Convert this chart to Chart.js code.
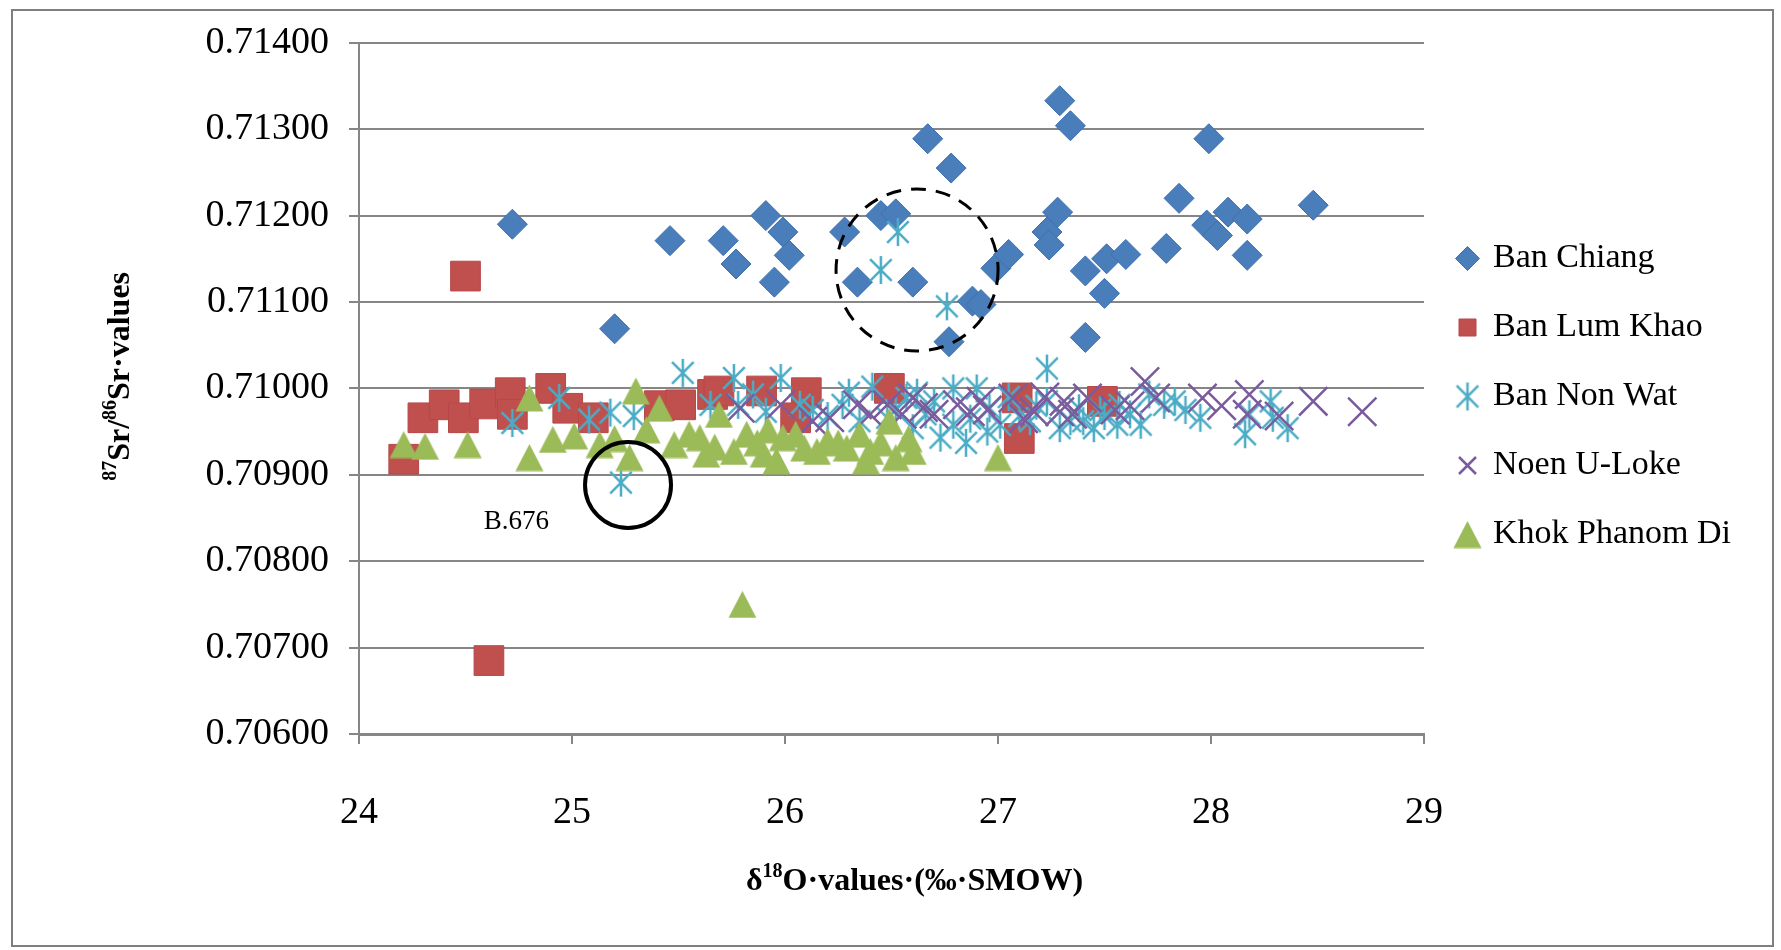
<!DOCTYPE html>
<html>
<head>
<meta charset="utf-8">
<script src="https://cdn.jsdelivr.net/npm/chart.js@4/dist/chart.umd.min.js"></script>
<style>
  html, body { margin: 0; padding: 0; background: #fff; }
  #wrap { position: relative; width: 1781px; height: 950px; }
</style>
</head>
<body>
<div id="wrap"><canvas id="isoChart"></canvas></div>
<script>
const seriesNames = ["Ban Chiang", "Ban Lum Khao", "Ban Non Wat", "Noen U-Loke", "Khok Phanom Di"];

const banChiangX = [24.72, 25.20, 25.46, 25.71, 25.77, 25.91, 25.99, 26.02, 25.95, 26.28,
  26.34, 26.45, 26.52, 26.60, 26.67, 26.78, 26.77, 26.88, 26.92, 26.99,
  27.05, 27.23, 27.24, 27.28, 27.29, 27.34, 27.41, 27.41, 27.50, 27.51,
  27.60, 27.79, 27.85, 27.98, 27.99, 28.03, 28.08, 28.17, 28.17, 28.48];
const banChiangY = [0.71190, 0.71069, 0.71171, 0.71171, 0.71144, 0.71200, 0.71181, 0.71154, 0.71123, 0.71181,
  0.71123, 0.71200, 0.71202, 0.71123, 0.71289, 0.71255, 0.71054, 0.71101, 0.71097, 0.71139,
  0.71155, 0.71181, 0.71166, 0.71204, 0.71333, 0.71304, 0.71136, 0.71059, 0.71110, 0.71150,
  0.71155, 0.71162, 0.71220, 0.71189, 0.71289, 0.71177, 0.71204, 0.71196, 0.71154, 0.71212];

const banLumKhaoX = [24.50, 24.61, 24.21, 24.30, 24.40, 24.49, 24.59, 24.71, 24.72, 24.90,
  24.98, 25.10, 25.41, 25.51, 25.66, 25.69, 25.89, 26.10, 26.05, 26.49,
  27.09, 27.10, 27.49];
const banLumKhaoY = [0.71130, 0.70685, 0.70918, 0.70966, 0.70981, 0.70966, 0.70982, 0.70995, 0.70970, 0.71000,
  0.70977, 0.70966, 0.70980, 0.70981, 0.70993, 0.70997, 0.70997, 0.70995, 0.70966, 0.71000,
  0.70989, 0.70942, 0.70985];

const banNonWatX = [24.72, 24.94, 25.08, 25.18, 25.29, 25.23, 25.52, 25.65, 25.76, 25.98,
  25.78, 25.91, 26.07, 26.27, 26.20, 26.41, 26.57, 26.66, 26.79, 26.90,
  26.79, 26.85, 26.73, 26.96, 27.01, 27.23, 27.23, 27.15, 27.29, 26.60,
  26.48, 27.34, 27.45, 27.56, 27.57, 27.67, 27.78, 27.71, 27.83, 27.95,
  28.16, 28.18, 28.28, 28.36, 28.29, 27.38, 25.85, 26.13, 26.35, 26.95,
  27.10, 27.50, 27.62, 26.30, 26.52, 26.62, 26.70, 26.87, 27.05, 27.18,
  27.40, 27.48, 27.88, 26.53, 26.45, 26.76];
const banNonWatY = [0.70960, 0.70989, 0.70964, 0.70972, 0.70968, 0.70891, 0.71018, 0.70981, 0.71012, 0.71012,
  0.70981, 0.70973, 0.70981, 0.70981, 0.70968, 0.71002, 0.70989, 0.70970, 0.71000, 0.71000,
  0.70958, 0.70937, 0.70943, 0.70977, 0.70958, 0.71023, 0.70985, 0.70962, 0.70954, 0.70954,
  0.70966, 0.70962, 0.70954, 0.70958, 0.70981, 0.70958, 0.70981, 0.70993, 0.70985, 0.70966,
  0.70947, 0.70970, 0.70985, 0.70954, 0.70966, 0.70977, 0.70993, 0.70975, 0.70962, 0.70950,
  0.70968, 0.70968, 0.70970, 0.70995, 0.70975, 0.70995, 0.70985, 0.70965, 0.70990, 0.70980,
  0.70962, 0.70975, 0.70975, 0.71181, 0.71137, 0.71095];

const noenULokeX = [25.79, 25.98, 26.13, 26.21, 26.34, 26.48, 26.60, 26.70, 26.81, 26.87,
  27.07, 27.17, 27.29, 27.31, 27.42, 27.69, 27.74, 27.96, 28.18, 28.17,
  28.32, 28.48, 28.71, 26.55, 26.95, 27.55, 26.40, 26.65, 26.92, 27.12,
  27.22, 27.35, 27.62, 28.05];
const noenULokeY = [0.70977, 0.70981, 0.70962, 0.70966, 0.70981, 0.70981, 0.70989, 0.70970, 0.70981, 0.70973,
  0.70989, 0.70973, 0.70973, 0.70985, 0.70989, 0.71008, 0.70989, 0.70989, 0.70993, 0.70970,
  0.70968, 0.70985, 0.70973, 0.70970, 0.70975, 0.70975, 0.70970, 0.70978, 0.70985, 0.70965,
  0.70990, 0.70970, 0.70980, 0.70980];

const khokPhanomDiX = [24.21, 24.31, 24.51, 24.80, 24.80, 24.91, 25.01, 25.13, 25.30, 25.41,
  25.27, 25.48, 25.60, 25.63, 25.69, 25.76, 25.82, 25.90, 25.96, 25.99,
  26.09, 26.20, 26.29, 26.38, 26.40, 26.49, 26.52, 26.60, 27.00, 25.80,
  25.20, 25.35, 25.55, 25.67, 25.87, 25.92, 26.05, 26.15, 26.25, 26.35,
  26.45, 26.58];
const khokPhanomDiY = [0.70935, 0.70933, 0.70935, 0.70989, 0.70920, 0.70941, 0.70945, 0.70935, 0.70997, 0.70977,
  0.70920, 0.70935, 0.70943, 0.70924, 0.70970, 0.70927, 0.70947, 0.70924, 0.70916, 0.70943,
  0.70931, 0.70939, 0.70931, 0.70916, 0.70927, 0.70962, 0.70920, 0.70927, 0.70920, 0.70750,
  0.70942, 0.70952, 0.70947, 0.70932, 0.70937, 0.70952, 0.70947, 0.70927, 0.70937, 0.70947,
  0.70937, 0.70942];

const xTicks = [24, 25, 26, 27, 28, 29];
const yTicks = [0.706, 0.707, 0.708, 0.709, 0.710, 0.711, 0.712, 0.713, 0.714];

// annotations drawn over the points
const sampleLabel = "B.676";
const sampleLabelAt = [24.739, 0.708455];
const solidRingAt = [25.263, 0.708882];
const dashedRingAt = [26.620, 0.711371];

const SERIF = '"Liberation Serif", "Times New Roman", serif';
const GRID = "#868686";

function zip(xs, ys) {
  return xs.map((x, i) => ({ x, y: ys[i] }));
}

// Excel style asterisk: vertical stroke plus an X
function asterisk(size, color, lw) {
  const c = document.createElement("canvas");
  c.width = size; c.height = size;
  const g = c.getContext("2d");
  const m = size / 2, d = size * 0.36;
  g.strokeStyle = color;
  g.lineWidth = lw;
  g.beginPath();
  g.moveTo(m, 1); g.lineTo(m, size - 1);
  g.moveTo(m - d, m - d); g.lineTo(m + d, m + d);
  g.moveTo(m + d, m - d); g.lineTo(m - d, m + d);
  g.stroke();
  return c;
}

// Excel style triangle, centred on its bounding box
function triangle(w, h, fill) {
  const c = document.createElement("canvas");
  c.width = w; c.height = h;
  const g = c.getContext("2d");
  g.fillStyle = fill;
  g.beginPath();
  g.moveTo(w / 2, 0.5);
  g.lineTo(w - 0.5, h - 0.5);
  g.lineTo(0.5, h - 0.5);
  g.closePath();
  g.fill();
  return c;
}

function drawRich(ctx, parts, cx, cy, size, rotate) {
  ctx.save();
  ctx.translate(cx, cy);
  if (rotate) ctx.rotate(-Math.PI / 2);
  const fontOf = (p) => `bold ${p.sup ? Math.round(size * 0.62) : size}px ${SERIF}`;
  let total = 0;
  parts.forEach((p) => { ctx.font = fontOf(p); total += ctx.measureText(p.t).width; });
  let x = -total / 2;
  ctx.fillStyle = "#000";
  ctx.textAlign = "left";
  ctx.textBaseline = "alphabetic";
  parts.forEach((p) => {
    ctx.font = fontOf(p);
    ctx.fillText(p.t, x, size * 0.33 - (p.sup ? size * 0.38 : 0));
    x += ctx.measureText(p.t).width;
  });
  ctx.restore();
}

const LEGEND_W = 357;

const layoutFix = {
  id: "layoutFix",
  beforeLayout(chart) {
    const lg = chart.legend;
    if (lg && !lg._wrapped) {
      const fit = lg.fit.bind(lg);
      lg.fit = function () { fit(); this.width = LEGEND_W; };
      lg._wrapped = true;
    }
  },
};

const extras = {
  id: "extras",
  beforeDraw(chart) {
    const ctx = chart.ctx;
    ctx.save();
    ctx.strokeStyle = "#7f7f7f";
    ctx.lineWidth = 2;
    ctx.strokeRect(12, 10, 1761, 936);
    ctx.restore();
  },
  afterDatasetsDraw(chart) {
    const { ctx, scales: { x, y } } = chart;
    ctx.save();
    ctx.strokeStyle = "#000";
    ctx.lineWidth = 4;
    ctx.beginPath();
    ctx.arc(x.getPixelForValue(solidRingAt[0]), y.getPixelForValue(solidRingAt[1]), 43, 0, Math.PI * 2);
    ctx.stroke();
    ctx.lineWidth = 3;
    ctx.setLineDash([15, 10]);
    ctx.beginPath();
    ctx.arc(x.getPixelForValue(dashedRingAt[0]), y.getPixelForValue(dashedRingAt[1]), 81, 0, Math.PI * 2);
    ctx.stroke();
    ctx.setLineDash([]);
    ctx.fillStyle = "#000";
    ctx.font = `27px ${SERIF}`;
    ctx.textAlign = "center";
    ctx.textBaseline = "middle";
    ctx.fillText(sampleLabel, x.getPixelForValue(sampleLabelAt[0]), y.getPixelForValue(sampleLabelAt[1]));
    ctx.restore();
  },
  afterDraw(chart) {
    const { ctx, chartArea: a } = chart;
    drawRich(ctx, [{ t: "δ" }, { t: "18", sup: true }, { t: "O·values·(‰·SMOW)" }],
      (a.left + a.right) / 2 + 23, a.bottom + 145, 32, false);
    drawRich(ctx, [{ t: "87", sup: true }, { t: "Sr/" }, { t: "86", sup: true }, { t: "Sr·values" }],
      a.left - 241, (a.top + a.bottom) / 2 - 12, 32, true);
  },
};

const styles = [
  { pointStyle: "rectRot", pointRadius: 15, pointBackgroundColor: "#4a7ebb", pointBorderColor: "#3d6fae", pointBorderWidth: 1 },
  { pointStyle: "rect", pointRadius: 21, pointBackgroundColor: "#c0504d", pointBorderColor: "#b8474a", pointBorderWidth: 1 },
  { pointStyle: asterisk(30, "#4bacc6", 2.5), pointRadius: 15, pointBackgroundColor: "#4bacc6", pointBorderColor: "#4bacc6", pointBorderWidth: 2.5 },
  { pointStyle: "crossRot", pointRadius: 20, pointBackgroundColor: "#8064a2", pointBorderColor: "#7a5c9e", pointBorderWidth: 2.5 },
  { pointStyle: triangle(29, 28, "#9bbb59"), pointRadius: 15, pointBackgroundColor: "#9bbb59", pointBorderColor: "#94b552", pointBorderWidth: 1 },
];

const seriesData = [
  zip(banChiangX, banChiangY),
  zip(banLumKhaoX, banLumKhaoY),
  zip(banNonWatX, banNonWatY),
  zip(noenULokeX, noenULokeY),
  zip(khokPhanomDiX, khokPhanomDiY),
];

new Chart(document.getElementById("isoChart"), {
  type: "scatter",
  data: {
    datasets: seriesNames.map((name, i) => ({
      label: name,
      data: seriesData[i],
      order: seriesNames.length - i, // later series on top, as in Excel
      pointHoverRadius: styles[i].pointRadius,
      ...styles[i],
    })),
  },
  options: {
    responsive: true,
    maintainAspectRatio: false,
    animation: false,
    layout: { padding: { left: 0, top: 40, right: 0, bottom: 0 } },
    plugins: {
      tooltip: { enabled: false },
      legend: {
        position: "right",
        fullSize: false,
        title: { display: true, text: "", font: { size: 1 }, padding: { top: 15, bottom: 0 } },
        labels: {
          usePointStyle: true,
          boxWidth: 17,
          boxHeight: 17,
          padding: 35,
          color: "#000",
          font: { family: SERIF, size: 34 },
          sort: (a, b) => a.datasetIndex - b.datasetIndex,
        },
      },
    },
    scales: {
      x: {
        type: "linear",
        min: 24,
        max: 29,
        afterBuildTicks: (axis) => { axis.ticks = xTicks.map((v) => ({ value: v })); },
        afterFit: (axis) => { axis.height = 216; },
        ticks: { color: "#000", padding: 46, font: { family: SERIF, size: 38 } },
        grid: { drawOnChartArea: false, drawTicks: true, tickLength: 10, color: GRID, lineWidth: 2 },
        border: { display: true, color: GRID, width: 3 },
      },
      y: {
        type: "linear",
        min: 0.706,
        max: 0.714,
        afterBuildTicks: (axis) => { axis.ticks = yTicks.map((v) => ({ value: v })); },
        afterFit: (axis) => { axis.width = 359; },
        ticks: {
          color: "#000",
          padding: 20,
          font: { family: SERIF, size: 38 },
          callback: (v) => Number(v).toFixed(5),
        },
        grid: { drawOnChartArea: true, drawTicks: true, tickLength: 10, color: GRID, lineWidth: 2 },
        border: { display: true, color: GRID, width: 2 },
      },
    },
  },
  plugins: [layoutFix, extras],
});
</script>
</body>
</html>
